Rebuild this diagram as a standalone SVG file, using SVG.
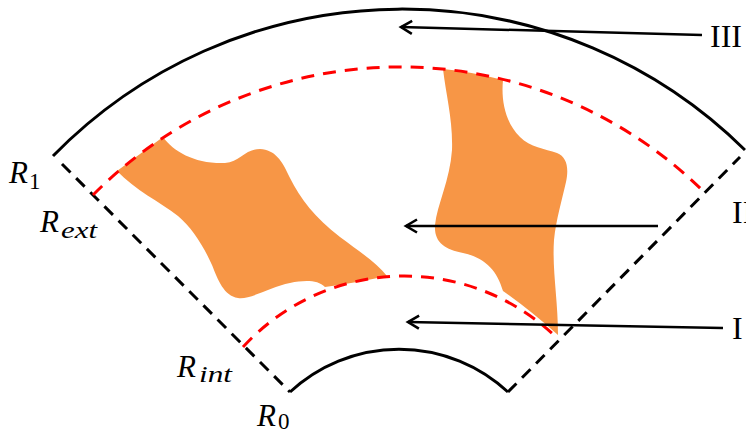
<svg xmlns="http://www.w3.org/2000/svg" width="746" height="432" viewBox="0 0 746 432">
<style>
.solid{fill:none;stroke:#000;stroke-width:3}
.bdash{fill:none;stroke:#000;stroke-width:3;stroke-dasharray:12 8}
.rdash{fill:none;stroke:#ff0000;stroke-width:3;stroke-dasharray:13 9}
.blob{fill:#F79646;stroke:none}
.arrow{fill:none;stroke:#000;stroke-width:2.5;marker-end:url(#arr)}
.lbl{font-family:"Liberation Serif","Times New Roman",serif;font-size:32px;fill:#000}
.m{font-family:"Liberation Serif","Times New Roman",serif;font-style:italic;font-size:31px;fill:#000}
.ms{font-family:"Liberation Serif","Times New Roman",serif;font-style:italic;font-size:23px;fill:#000}
.mn{font-family:"Liberation Serif","Times New Roman",serif;font-size:23px;fill:#000}
</style>
<defs>
<marker id="arr" markerUnits="userSpaceOnUse" viewBox="-14 -8 20 16" refX="0" refY="0" markerWidth="20" markerHeight="16" orient="auto" overflow="visible">
<path d="M-11,-6.5 L0,0 L-11,6.5" fill="none" stroke="#000" stroke-width="2.6"/>
</marker>
</defs>
<g id="regions">
<path class="blob" d="M117,171 L163,137 C174,152 195,164 225,163 C240,162 245,149 260,149 C275,150 282,160 290,178 C300,198 315,218 340,237 C360,252 377,263 387,276 Q355,283 325,287 C318,280 305,280 290,283 C270,287 250,300 238,298 C224,296 218,280 212,265 C203,245 192,228 178,216 C160,202 135,190 117,171 Z"/>
<path class="blob" d="M443,69 Q473,72 503,80 C501,100 505,122 520,137 C530,147 545,149 557,153 C567,157 569,168 566,182 C562,200 556,220 554,240 C552,270 558,300 558,335 Q530,310 503,291 C497,270 485,258 463,253 C445,249 434,243 435,225 C437,205 450,180 452,150 C453,120 446,95 443,69 Z"/>
</g>
<g id="boundaries">
<path class="solid" d="M53,156 A488,488 0 0 1 745,150"/>
<path class="solid" d="M290,392 A160,160 0 0 1 508,392"/>
<path class="bdash" d="M62,164 L290,392"/>
<path class="bdash" d="M508,392 L740,157"/>
<path class="rdash" d="M93,195 A432,432 0 0 1 702,190"/>
<path class="rdash" d="M243,347 A219,219 0 0 1 557,338"/>
</g>
<g id="connectors">
<path class="arrow" d="M702,35 L401,27"/>
<path class="arrow" d="M658,226 L406,226"/>
<path class="arrow" d="M723,328 L408,322"/>
</g>
<g id="labels">
<text class="lbl" x="710" y="47">III</text>
<text class="lbl" x="732" y="223">II</text>
<text class="lbl" x="732" y="339">I</text>
<text class="m" x="9" y="183">R</text><text class="mn" x="29" y="189" textLength="11">1</text>
<text class="m" x="40" y="232">R</text><text class="ms" x="61" y="238" textLength="36" lengthAdjust="spacingAndGlyphs">ext</text>
<text class="m" x="177" y="377">R</text><text class="ms" x="199" y="382" textLength="33" lengthAdjust="spacingAndGlyphs">int</text>
<text class="m" x="257" y="426">R</text><text class="mn" x="278" y="429" textLength="12">0</text>
</g>
</svg>
